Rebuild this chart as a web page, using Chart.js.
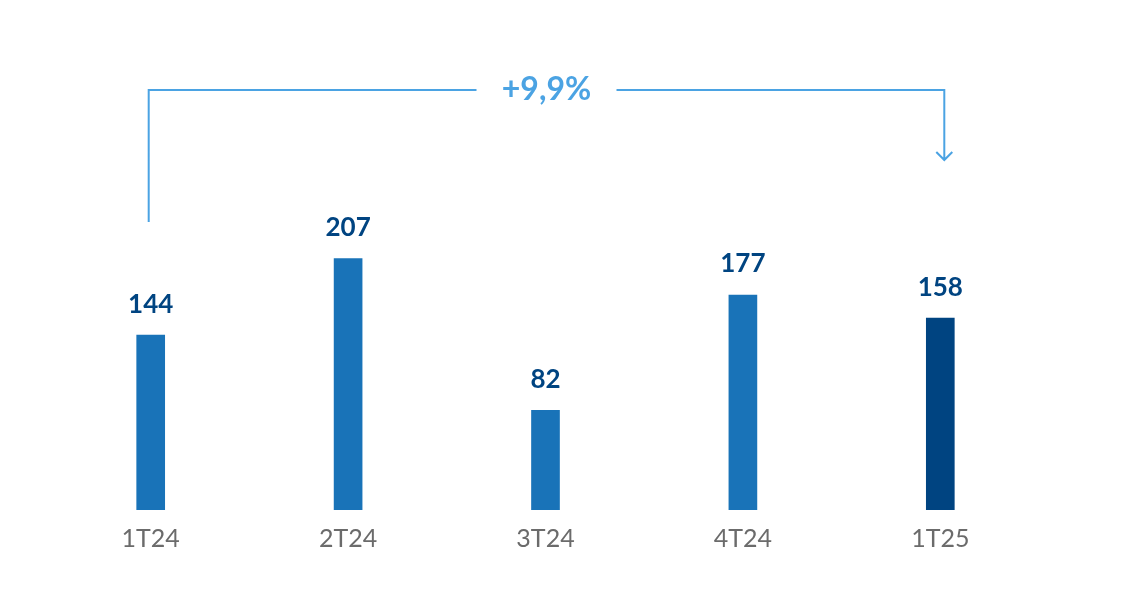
<!DOCTYPE html>
<html>
<head>
<meta charset="utf-8">
<script src="https://cdn.jsdelivr.net/npm/chart.js@4/dist/chart.umd.min.js"></script>
<style>
  html, body { margin: 0; padding: 0; background: #fff; }
  #wrap { width: 1147px; height: 594px; }
</style>
</head>
<body>
<div id="wrap"><canvas id="chart" width="1147" height="594"></canvas></div>
<script>
// data
const categories = ['1T24', '2T24', '3T24', '4T24', '1T25'];
const values = [144, 207, 82, 177, 158];
const barColors = ['#1973b8', '#1973b8', '#1973b8', '#1973b8', '#004481'];
const changeLabel = '+9,9%';

// value labels above bars
const valueLabels = {
    id: 'valueLabels',
    afterDatasetsDraw(chart) {
        const ctx = chart.ctx;
        const meta = chart.getDatasetMeta(0);
        ctx.save();
        ctx.fillStyle = '#004481';
        ctx.font = 'bold 26px Lato';
        ctx.textAlign = 'center';
        ctx.textBaseline = 'middle';
        meta.data.forEach((bar, i) => {
            ctx.fillText(values[i], bar.x, bar.y - 31);
        });
        ctx.restore();
    }
};

// bracket with percentage from first to last bar
const bracket = {
    id: 'bracket',
    afterDraw(chart) {
        const ctx = chart.ctx;
        const x = chart.scales.x;
        const x0 = x.getPixelForValue(0) - 2;
        const x1 = x.getPixelForValue(categories.length - 1) + 4;
        const yTop = 90;
        const mid = (x0 + x1) / 2;
        ctx.save();
        ctx.strokeStyle = '#4ba3e3';
        ctx.lineWidth = 2;
        ctx.beginPath();
        ctx.moveTo(x0, 222);
        ctx.lineTo(x0, yTop);
        ctx.lineTo(mid - 70, yTop);
        ctx.moveTo(mid + 70, yTop);
        ctx.lineTo(x1, yTop);
        ctx.lineTo(x1, 160);
        ctx.moveTo(x1 - 8, 152);
        ctx.lineTo(x1, 160);
        ctx.lineTo(x1 + 8, 152);
        ctx.stroke();
        ctx.fillStyle = '#4ba3e3';
        ctx.font = 'bold 32px Lato';
        ctx.textAlign = 'center';
        ctx.textBaseline = 'middle';
        ctx.fillText(changeLabel, mid, yTop);
        ctx.restore();
    }
};

const ctx = document.getElementById('chart').getContext('2d');
new Chart(ctx, {
    type: 'bar',
    data: {
        labels: categories,
        datasets: [{
            data: values,
            backgroundColor: barColors,
            barThickness: 28
        }]
    },
    options: {
        responsive: false,
        animation: false,
        layout: {
            padding: { left: 52, right: 108, top: 85, bottom: 34 }
        },
        plugins: {
            legend: { display: false },
            tooltip: { enabled: false }
        },
        scales: {
            x: {
                grid: { display: false },
                border: { display: false },
                ticks: {
                    color: '#6b6b6b',
                    font: { family: 'Lato', size: 25 },
                    padding: 6
                }
            },
            y: {
                display: false,
                min: 0,
                max: 350
            }
        }
    },
    plugins: [valueLabels, bracket]
});
</script>
</body>
</html>
